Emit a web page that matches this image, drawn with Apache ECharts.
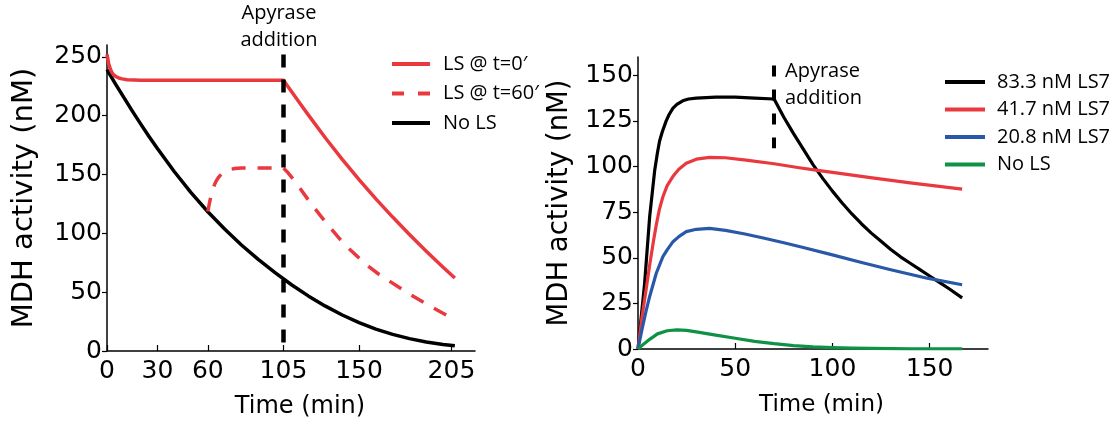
<!DOCTYPE html>
<html>
<head>
<meta charset="utf-8">
<script src="https://cdn.jsdelivr.net/npm/echarts@6/dist/echarts.min.js"></script>
<style>
  html, body { margin: 0; padding: 0; background: #fff; }
  #chart { width: 1117px; height: 424px; }
</style>
</head>
<body>
<div id="chart"></div>
<script>
// ---- Left panel: LS added at t = 0 or t = 60 min, apyrase at 105 min ----
const leftXTicks = [0, 30, 60, 105, 150, 205];
const leftYTicks = [0, 50, 100, 150, 200, 250];

const noLsTime  = [0, 5, 10, 15, 20, 25, 30, 40, 50, 60, 70, 80, 90, 100, 110, 120, 130, 140, 150, 160, 170, 180, 190, 200, 207];
const noLsValue = [239, 227, 215.5, 204, 193, 182.3, 172, 152.5, 134.5, 118.3, 103.6, 90.1, 77.8, 66.6, 56.1, 46.6, 38.1, 30.6, 24.1, 18.6, 14.1, 10.5, 7.7, 5.6, 4.5];

const ls0Time  = [0, 1, 2, 3, 4, 5.5, 7, 9, 12, 16, 20, 60, 105, 110, 115, 120, 130, 140, 150, 160, 170, 180, 190, 200, 207];
const ls0Value = [252, 244, 239.5, 236.5, 234.5, 233, 232, 231.2, 230.5, 230.2, 230, 230, 230, 220, 210, 200.2, 181, 162.8, 145.6, 129.3, 113.8, 99, 84.8, 71.2, 62];

const ls60Time  = [60, 61, 62, 63, 64, 65, 66.5, 68, 70, 73, 76, 80, 105, 108, 112, 116, 121, 127, 133, 139, 144, 150, 156, 162, 169, 176, 184, 193, 202, 207];
const ls60Value = [118.5, 126, 132.5, 137.5, 141.5, 144.5, 147.8, 150.2, 152.3, 154.2, 155, 155.5, 155.5, 151, 144, 136, 126, 115, 104.5, 94.5, 87, 79, 71.5, 65, 58.5, 52, 45, 37.5, 30.5, 27];

const leftApyraseTime = 105;

// ---- Right panel: LS7 dose series, apyrase at 70 min ----
const rightXTicks = [0, 50, 100, 150];
const rightYTicks = [0, 25, 50, 75, 100, 125, 150];

const ls7HighTime  = [0, 3.4, 6, 8.6, 10, 11.1, 12.5, 14.5, 16, 18, 20, 23, 26, 30, 40, 50, 60, 70, 75, 80, 85, 90, 95, 100, 105, 110, 115, 120, 125, 130, 135, 140, 145, 150, 155, 160, 166.7];
const ls7HighValue = [0, 36, 72.5, 98, 107.5, 114, 119, 125, 128.5, 132, 134, 136, 137, 137.5, 138, 138, 137.5, 137, 127, 118, 109.5, 101, 93.5, 86.5, 80, 74, 68.5, 63.5, 59, 54.5, 50.5, 47, 43.5, 40, 36.5, 33, 28];

const ls7MidTime  = [0, 2, 4.3, 6, 8, 9.4, 11, 12.8, 15, 18, 21, 24.8, 30, 36.8, 45, 55.6, 70, 82.9, 91.5, 100, 120.5, 140, 166.7];
const ls7MidValue = [0, 17, 33.5, 46, 59.5, 68, 76.5, 83.4, 89.5, 94.6, 98.5, 101.8, 104, 105, 104.8, 103.5, 101.5, 99.3, 98, 96.8, 93.8, 91, 87.6];

const ls7LowTime  = [0, 2, 4.3, 6, 9.4, 12.8, 15, 18, 21, 24.8, 30, 36.8, 45, 55, 65, 75, 85, 100, 115, 130, 148.7, 166.7];
const ls7LowValue = [0, 10.5, 21.5, 28.8, 41.5, 50.6, 54.3, 58.8, 61.6, 64.3, 65.6, 66.1, 65, 63, 60.7, 58.2, 55.6, 51.6, 47.4, 43.4, 38.8, 35.2];

const ctrlTime  = [0, 3, 6, 10, 15, 20, 25, 30, 40, 50, 60, 70, 80, 90, 100, 110, 120, 140, 166.7];
const ctrlValue = [0, 2.8, 5.3, 8.3, 10, 10.5, 10.2, 9.4, 7.6, 5.9, 4.2, 2.9, 1.9, 1.2, 0.8, 0.5, 0.3, 0.1, 0.05];

const rightApyraseTime = 70;

const leftNames  = ['LS @ t=0\u2032', 'LS @ t=60\u2032', 'No LS'];
// trailing space keeps the two "No LS" entries apart; the legend trims it
const rightNames = ['83.3 nM LS7', '41.7 nM LS7', '20.8 nM LS7', 'No LS '];

const RED = '#e9393f', BLUE = '#2a58a8', GREEN = '#0f9146', BLACK = '#000';

// legend swatches: flat bars, one split into two dashes
const SOLID_38 = 'path://M0,0H38V4H0Z';
const DASH_38  = 'path://M0,0H12V4H0ZM26,0H38V4H26Z';
const SOLID_40 = 'path://M0,0H40V4H0Z';

const zip = (t, v) => t.map((x, i) => [x, v[i]]);

const axisFont = 'DejaVu Sans';
const noteFont = 'Open Sans';

function valueAxis(opts) {
  return Object.assign({
    type: 'value',
    axisLine: { show: true, lineStyle: { color: '#000', width: 1.5 } },
    splitLine: { show: false },
    nameLocation: 'middle'
  }, opts);
}

function curve(name, data, color, idx, extra) {
  return Object.assign({
    name, type: 'line', data,
    xAxisIndex: idx, yAxisIndex: idx,
    showSymbol: false, symbol: 'none',
    smooth: false,
    lineStyle: { color, width: idx === 0 ? 3.5 : 3.2, join: 'round', cap: 'butt' },
    itemStyle: { color },
    animation: false
  }, extra || {});
}

const tickStyle = { color: '#000', width: 1.2 };
const labelStyle = (values) => ({ color: '#000', fontFamily: axisFont, fontSize: 25, customValues: values });

const chart = echarts.init(document.getElementById('chart'), null, { renderer: 'canvas' });

chart.setOption({
  backgroundColor: '#fff',
  animation: false,
  grid: [
    { left: 107, right: 642, top: 45, bottom: 73, outerBoundsMode: 'none' },
    { left: 638, right: 129, top: 57, bottom: 75, outerBoundsMode: 'none' }
  ],
  xAxis: [
    valueAxis({
      gridIndex: 0, min: 0, max: 219,
      name: 'Time (min)', nameGap: 44,
      nameTextStyle: { color: '#000', fontFamily: axisFont, fontSize: 24, padding: [0, 0, 0, 18] },
      axisTick: { show: true, inside: true, length: 6, lineStyle: tickStyle, customValues: leftXTicks },
      axisLabel: Object.assign(labelStyle(leftXTicks), { margin: 8 })
    }),
    valueAxis({
      gridIndex: 1, min: 0, max: 180,
      name: 'Time (min)', nameGap: 45,
      nameTextStyle: { color: '#000', fontFamily: axisFont, fontSize: 23, padding: [0, 0, 0, 17] },
      axisTick: { show: true, inside: true, length: 6, lineStyle: tickStyle, customValues: rightXTicks },
      axisLabel: Object.assign(labelStyle(rightXTicks), { margin: 8 })
    })
  ],
  yAxis: [
    valueAxis({
      gridIndex: 0, min: 0, max: 260,
      name: 'MDH activity (nM)', nameGap: 68,
      nameTextStyle: { color: '#000', fontFamily: axisFont, fontSize: 29 },
      axisTick: { show: true, inside: false, length: 5, lineStyle: tickStyle, customValues: leftYTicks },
      axisLabel: Object.assign(labelStyle(leftYTicks), { margin: 5 })
    }),
    valueAxis({
      gridIndex: 1, min: 0, max: 160,
      name: 'MDH activity (nM)', nameGap: 64,
      nameTextStyle: { color: '#000', fontFamily: axisFont, fontSize: 27.5 },
      axisTick: { show: true, inside: false, length: 5, lineStyle: tickStyle, customValues: rightYTicks },
      axisLabel: Object.assign(labelStyle(rightYTicks), { margin: 5 })
    })
  ],
  legend: [
    {
      data: [
        { name: leftNames[0], icon: SOLID_38 },
        { name: leftNames[1], icon: DASH_38 },
        { name: leftNames[2], icon: SOLID_38 }
      ],
      orient: 'vertical', left: 392, top: 54, padding: 0,
      itemWidth: 38, itemHeight: 4, itemGap: 9.5,
      itemStyle: { borderWidth: 0 },
      textStyle: { color: '#000', fontFamily: noteFont, fontSize: 20, lineHeight: 20, padding: [0, 0, 0, 8] },
      selectedMode: false
    },
    {
      data: rightNames.map(n => ({ name: n, icon: SOLID_40 })),
      orient: 'vertical', left: 945, top: 72, padding: 0,
      itemWidth: 40, itemHeight: 4, itemGap: 7.5,
      itemStyle: { borderWidth: 0 },
      formatter: name => name.trim(),
      textStyle: { color: '#000', fontFamily: noteFont, fontSize: 20, lineHeight: 20, padding: [0, 0, 0, 7] },
      selectedMode: false
    }
  ],
  graphic: [
    {
      type: 'text', x: 279, y: 27, silent: true,
      style: {
        text: 'Apyrase\naddition', fill: '#000',
        font: '20px "Open Sans"', lineHeight: 27,
        textAlign: 'center', textVerticalAlign: 'middle'
      }
    },
    {
      type: 'text', x: 785, y: 85, silent: true,
      style: {
        text: 'Apyrase\naddition', fill: '#000',
        font: '20px "Open Sans"', lineHeight: 26.6,
        textAlign: 'left', textVerticalAlign: 'middle'
      }
    }
  ],
  series: [
    curve(leftNames[2], zip(noLsTime, noLsValue), BLACK, 0, {
      markLine: {
        silent: true, symbol: 'none', animation: false,
        label: { show: false },
        lineStyle: { color: '#000', width: 4.5, type: [13, 12] },
        data: [[{ coord: [leftApyraseTime, 252] }, { coord: [leftApyraseTime, 0] }]]
      }
    }),
    curve(leftNames[0], zip(ls0Time, ls0Value), RED, 0),
    curve(leftNames[1], zip(ls60Time, ls60Value), RED, 0, {
      lineStyle: { color: RED, width: 3.5, type: [14, 12], join: 'round' }
    }),
    curve(rightNames[0], zip(ls7HighTime, ls7HighValue), BLACK, 1, {
      markLine: {
        silent: true, symbol: 'none', animation: false,
        label: { show: false },
        lineStyle: { color: '#000', width: 4, type: [11, 13] },
        data: [[{ coord: [rightApyraseTime, 155.4] }, { coord: [rightApyraseTime, 110] }]]
      }
    }),
    curve(rightNames[1], zip(ls7MidTime, ls7MidValue), RED, 1),
    curve(rightNames[2], zip(ls7LowTime, ls7LowValue), BLUE, 1),
    curve(rightNames[3], zip(ctrlTime, ctrlValue), GREEN, 1)
  ]
});
</script>
</body>
</html>
